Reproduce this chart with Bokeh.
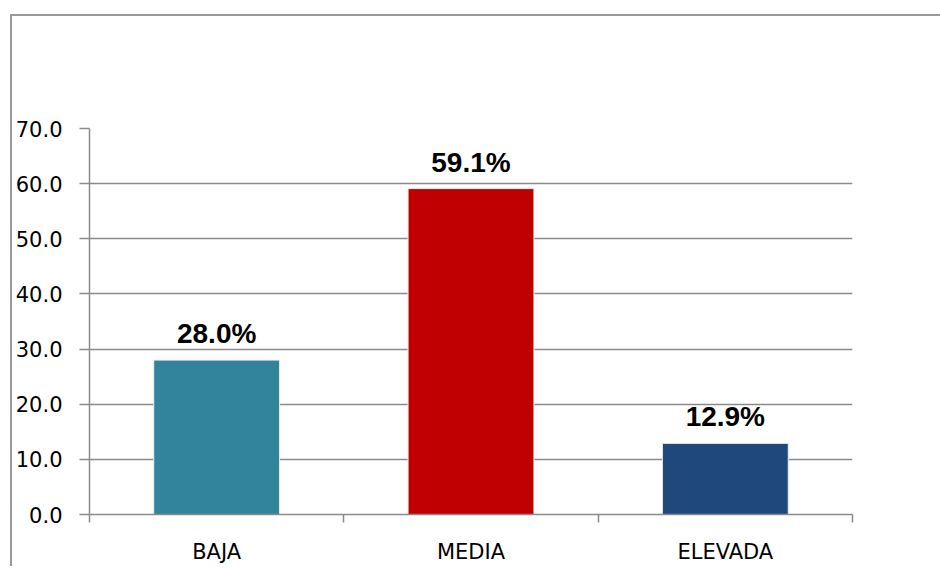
from bokeh.plotting import figure
from bokeh.models import (ColumnDataSource, FixedTicker, PrintfTickFormatter,
                          Range1d, LabelSet)
from bokeh.core.properties import value
from bokeh.embed import file_html
from bokeh.resources import INLINE

categories = ["BAJA", "MEDIA", "ELEVADA"]
values = [28.0, 59.1, 12.9]
colors = ["#31849B", "#C00000", "#1F497D"]
labels = ["28.0%", "59.1%", "12.9%"]
y_ticks = [0, 10, 20, 30, 40, 50, 60, 70]

x_pos = [i + 0.5 for i in range(len(categories))]
src = ColumnDataSource(dict(x=x_pos, top=values, color=colors, label=labels, cat=categories))

p = figure(width=940, height=552, output_backend="svg", toolbar_location=None,
           x_range=Range1d(0, len(categories)), y_range=Range1d(0, 70),
           min_border_left=76, min_border_right=100, min_border_top=112, min_border_bottom=54)
p.margin = (16, 0, 0, 12)
p.styles = {"box-shadow": "-2px -2px 0px 0px #9a9a9a"}
p.outline_line_color = None
p.background_fill_color = "white"
p.border_fill_color = "white"

p.vbar(x="x", top="top", width=0.495, bottom=0, source=src, fill_color="color",
       line_color="#f0f0f0", line_width=1)

p.add_layout(LabelSet(x="x", y="top", text="label", source=src, text_align="center",
                      text_baseline="alphabetic", y_offset=17,
                      text_font=value("Liberation Sans"),
                      text_font_style="bold", text_font_size="28px", text_color="black"))

gray = "#8a8a8a"
p.xaxis.ticker = FixedTicker(ticks=x_pos, minor_ticks=list(range(len(categories) + 1)))
p.xaxis.major_label_overrides = {x: c for x, c in zip(x_pos, categories)}
p.xaxis.major_tick_line_color = None
p.xaxis.minor_tick_line_color = gray
p.xaxis.minor_tick_out = 8
p.xaxis.minor_tick_in = 0
p.xaxis.axis_line_color = gray
p.xaxis.axis_line_width = 1.5
p.xaxis.minor_tick_line_width = 1.5
p.xaxis.major_label_standoff = 17
p.xaxis.major_label_text_font = "DejaVu Sans"
p.xaxis.major_label_text_font_size = "21px"
p.xaxis.major_label_text_color = "black"

p.yaxis.ticker = FixedTicker(ticks=y_ticks, minor_ticks=[])
p.yaxis.formatter = PrintfTickFormatter(format="%.1f")
p.yaxis.major_tick_out = 10
p.yaxis.major_tick_in = 0
p.yaxis.major_tick_line_color = gray
p.yaxis.major_tick_line_width = 1.5
p.yaxis.axis_line_color = gray
p.yaxis.axis_line_width = 1.5
p.yaxis.major_label_standoff = 17
p.yaxis.major_label_text_font = "DejaVu Sans"
p.yaxis.major_label_text_font_size = "21px"
p.yaxis.major_label_text_color = "black"

p.xgrid.grid_line_color = None
p.ygrid.ticker = FixedTicker(ticks=y_ticks)
p.ygrid.grid_line_color = gray
p.ygrid.grid_line_width = 1.5

open("out.html", "w").write(file_html(p, INLINE))
